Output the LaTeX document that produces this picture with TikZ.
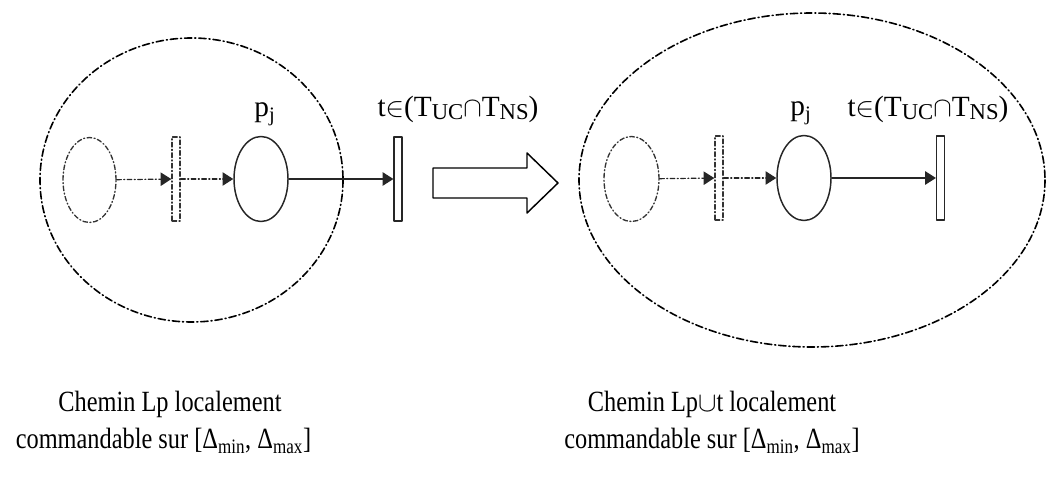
\documentclass[tikz,border=0pt]{standalone}
\usepackage{fontspec}
\setmainfont{Liberation Serif}
\newfontfamily\etroite[FakeStretch=0.83]{Liberation Serif}
\usetikzlibrary{arrows.meta,shapes.geometric}

\newcommand{\indice}[1]{\raisebox{-0.2ex}{\fontsize{17}{17}\selectfont #1}}

\tikzset{
  tiretpoint/.style={dash pattern=on 5.5pt off 2.2pt on 0.8pt off 2.2pt},
  petittiret/.style={dash pattern=on 3.5pt off 1.8pt on 0.8pt off 1.8pt},
  place/.style={draw=black!85,ellipse,line width=1.1pt,
    minimum width=40.5pt,minimum height=63.75pt,inner sep=0pt},
  placefantome/.style={place,draw=black!80,line width=1pt,petittiret},
  transition/.style={draw=black!85,rectangle,line width=0.9pt,
    minimum width=6pt,minimum height=63pt,inner sep=0pt},
  transfantome/.style={transition,draw=black!80,line width=1pt,petittiret},
  arc/.style={draw=black!85,line width=0.9pt,
    -{Triangle[length=8pt,width=10pt]}},
  etiquette/.style={font=\fontsize{22}{26}\selectfont,anchor=base},
  legende/.style={font=\etroite\fontsize{22}{26}\selectfont,anchor=base}
}

\begin{document}
\begin{tikzpicture}[
  x=0.75pt,
  y=-0.75pt,
  line cap=round,
  line join=round
]
  \useasboundingbox (0,0) rectangle (1047,477);

  % Chemin Lp (à gauche)
  \draw[tiretpoint,line width=1.2pt]
    (191.5,180)
    ellipse[
      x radius=151.5,
      y radius=142
    ];

  \node[placefantome,minimum width=39.75pt] (pa) at (89.5,180) {};
  \node[transfantome] (ta) at (176,179) {};
  \node[place] (pj) at (261,179) {};
  \node[transition] (t) at (398,179) {};

  \draw[arc,petittiret] (pa) -- (ta);
  \draw[arc,petittiret] (ta) -- (pj);
  \draw[arc] (pj) -- (t);

  \node[etiquette] (lpj) at (265,117) {p\textsubscript{j}};
  \node[etiquette] (lt) at (458,117)
    {t$\in$(T\indice{UC}$\cap$T\indice{NS})};

  % Grande flèche
  \coordinate (F) at (433,183);
  \draw[line width=1.1pt]
    (F) ++(0,-15) -- ++(94,0) -- ++(0,-15) -- (558,183)
    -- (527,213) -- ++(0,-15) -- ++(-94,0) -- cycle;

  % Chemin Lp avec t (à droite)
  \draw[tiretpoint,line width=1.2pt]
    (812,180)
    ellipse[
      x radius=233,
      y radius=167
    ];

  \node[placefantome,minimum width=41.25pt] (pb) at (631.5,179) {};
  \node[transfantome] (tb) at (719,178) {};
  \node[place] (pk) at (804,178) {};
  \node[transition] (tt) at (940.5,178) {};

  \draw[arc,petittiret] (pb) -- (tb);
  \draw[arc,petittiret] (tb) -- (pk);
  \draw[arc] (pk) -- (tt);

  \node[etiquette] (rpj) at (801,116) {p\textsubscript{j}};
  \node[etiquette] (rt) at (928,117)
    {t$\in$(T\indice{UC}$\cap$T\indice{NS})};

  % Textes du bas
  \node[legende] (g1) at (170,412) {Chemin Lp localement};
  \node[legende] (g2) at (163.5,449)
    {commandable sur [Δ\textsubscript{min}, Δ\textsubscript{max}]};
  \node[legende] (d1) at (712,412) {Chemin Lp$\cup$t localement};
  \node[legende] (d2) at (712,449)
    {commandable sur [Δ\textsubscript{min}, Δ\textsubscript{max}]};
\end{tikzpicture}
\end{document}
